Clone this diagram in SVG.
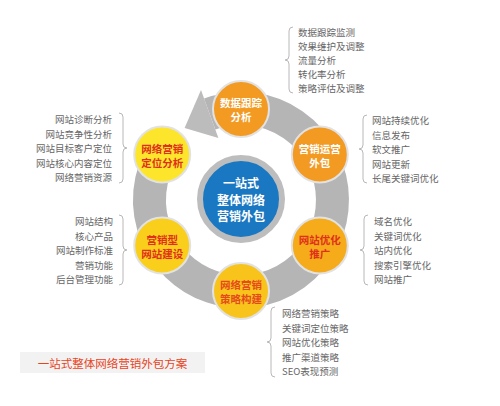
<svg xmlns="http://www.w3.org/2000/svg" width="500" height="406" viewBox="0 0 500 406">
<style>
.lst{font-family:"Noto Sans CJK SC","Noto Sans",sans-serif;font-size:9.5px;fill:#666;dominant-baseline:central}
.r{text-anchor:end}
.nt{font-family:"Noto Sans CJK SC","Noto Sans",sans-serif;font-size:10.5px;font-weight:bold;text-anchor:middle;dominant-baseline:central}
.ct{font-size:12px;fill:#fff}
.brace{fill:none;stroke:#b8b8b8;stroke-width:1}
.node{stroke:#e2e2e2;stroke-width:2}
</style>
<rect width="500" height="406" fill="#fff"/>
<g id="connectors">
<path d="M209.7,114 A91.5,91.5 0 1 1 168.9,143.6" fill="none" stroke="#b5b5b5" stroke-width="33"/>
<polygon points="218.4,138 201,90 184.6,127.9" fill="#bcbcbc"/>
</g>
<g id="center">
<circle cx="241" cy="199" r="41" fill="#1a78c2" stroke="#bdbdbd" stroke-width="6"/>
<text class="nt ct" x="241" y="182.5">一站式</text>
<text class="nt ct" x="241" y="199">整体网络</text>
<text class="nt ct" x="241" y="215.5">营销外包</text>
</g>
<g id="n1">
<circle class="node" cx="241" cy="109" r="28" fill="#f29a22"/>
<text class="nt" x="241" y="102" fill="#fff">数据跟踪</text>
<text class="nt" x="241" y="116" fill="#fff">分析</text>
</g>
<g id="n2">
<circle class="node" cx="319.8" cy="154.5" r="28" fill="#f29a22"/>
<text class="nt" x="319.8" y="148" fill="#fff">营销运营</text>
<text class="nt" x="319.8" y="162" fill="#fff">外包</text>
</g>
<g id="n3">
<circle class="node" cx="319.8" cy="245.5" r="28" fill="#f5ab1a"/>
<text class="nt" x="319.8" y="239" fill="#e0301c">网站优化</text>
<text class="nt" x="319.8" y="253" fill="#e0301c">推广</text>
</g>
<g id="n4">
<circle class="node" cx="241" cy="291" r="28" fill="#f8c41c"/>
<text class="nt" x="241" y="284" fill="#e54a1c">网络营销</text>
<text class="nt" x="241" y="298" fill="#e54a1c">策略构建</text>
</g>
<g id="n5">
<circle class="node" cx="162.2" cy="245.5" r="28" fill="#f9cf1b"/>
<text class="nt" x="162.2" y="239" fill="#e0301c">营销型</text>
<text class="nt" x="162.2" y="253" fill="#e0301c">网站建设</text>
</g>
<g id="n6">
<circle class="node" cx="162.2" cy="154.5" r="28" fill="#fde52b"/>
<text class="nt" x="162.2" y="148" fill="#e0301c">网络营销</text>
<text class="nt" x="162.2" y="162" fill="#e0301c">定位分析</text>
</g>
<g id="list-top">
<path class="brace" d="M293,27 Q289,27 289,31 L289,56 Q289,60 285,60 Q289,60 289,64 L289,89 Q289,93 293,93"/>
<text class="lst" x="298" y="32">数据跟踪监测</text>
<text class="lst" x="298" y="46">效果维护及调整</text>
<text class="lst" x="298" y="60">流量分析</text>
<text class="lst" x="298" y="74">转化率分析</text>
<text class="lst" x="298" y="88">策略评估及调整</text>
</g>
<g id="list-rt">
<path class="brace" d="M367,115 Q363,115 363,119 L363,145 Q363,149 359,149 Q363,149 363,153 L363,179 Q363,183 367,183"/>
<text class="lst" x="372" y="120">网站持续优化</text>
<text class="lst" x="372" y="134.5">信息发布</text>
<text class="lst" x="372" y="149">软文推广</text>
<text class="lst" x="372" y="163.5">网站更新</text>
<text class="lst" x="372" y="178">长尾关键词优化</text>
</g>
<g id="list-rb">
<path class="brace" d="M368,215 Q364,215 364,219 L364,246 Q364,250 360,250 Q364,250 364,254 L364,281 Q364,285 368,285"/>
<text class="lst" x="374" y="221">域名优化</text>
<text class="lst" x="374" y="235.5">关键词优化</text>
<text class="lst" x="374" y="250">站内优化</text>
<text class="lst" x="374" y="264.5">搜索引擎优化</text>
<text class="lst" x="374" y="279">网站推广</text>
</g>
<g id="list-b">
<path class="brace" d="M275,307 Q271,307 271,311 L271,338 Q271,342 267,342 Q271,342 271,346 L271,373 Q271,377 275,377"/>
<text class="lst" x="282" y="313">网络营销策略</text>
<text class="lst" x="282" y="327.5">关键词定位策略</text>
<text class="lst" x="282" y="342">网站优化策略</text>
<text class="lst" x="282" y="356.5">推广渠道策略</text>
<text class="lst" x="282" y="371">SEO表现预测</text>
</g>
<g id="list-lb">
<path class="brace" d="M119,215 Q123,215 123,219 L123,246 Q123,250 127,250 Q123,250 123,254 L123,281 Q123,285 119,285"/>
<text class="lst r" x="113" y="221">网站结构</text>
<text class="lst r" x="113" y="235.5">核心产品</text>
<text class="lst r" x="113" y="250">网站制作标准</text>
<text class="lst r" x="113" y="264.5">营销功能</text>
<text class="lst r" x="113" y="279">后台管理功能</text>
</g>
<g id="list-lt">
<path class="brace" d="M119,113 Q123,113 123,117 L123,144 Q123,148 127,148 Q123,148 123,152 L123,179 Q123,183 119,183"/>
<text class="lst r" x="112" y="119">网站诊断分析</text>
<text class="lst r" x="112" y="133.5">网站竞争性分析</text>
<text class="lst r" x="112" y="148">网站目标客户定位</text>
<text class="lst r" x="112" y="162.5">网站核心内容定位</text>
<text class="lst r" x="112" y="177">网络营销资源</text>
</g>
<g id="caption">
<rect x="20" y="352" width="185" height="21" fill="#f2f2f2"/>
<text x="112.5" y="363" text-anchor="middle" dominant-baseline="central" font-family="Noto Sans CJK SC, Noto Sans, sans-serif" font-size="11.5" fill="#e8441c">一站式整体网络营销外包方案</text>
</g>
</svg>
